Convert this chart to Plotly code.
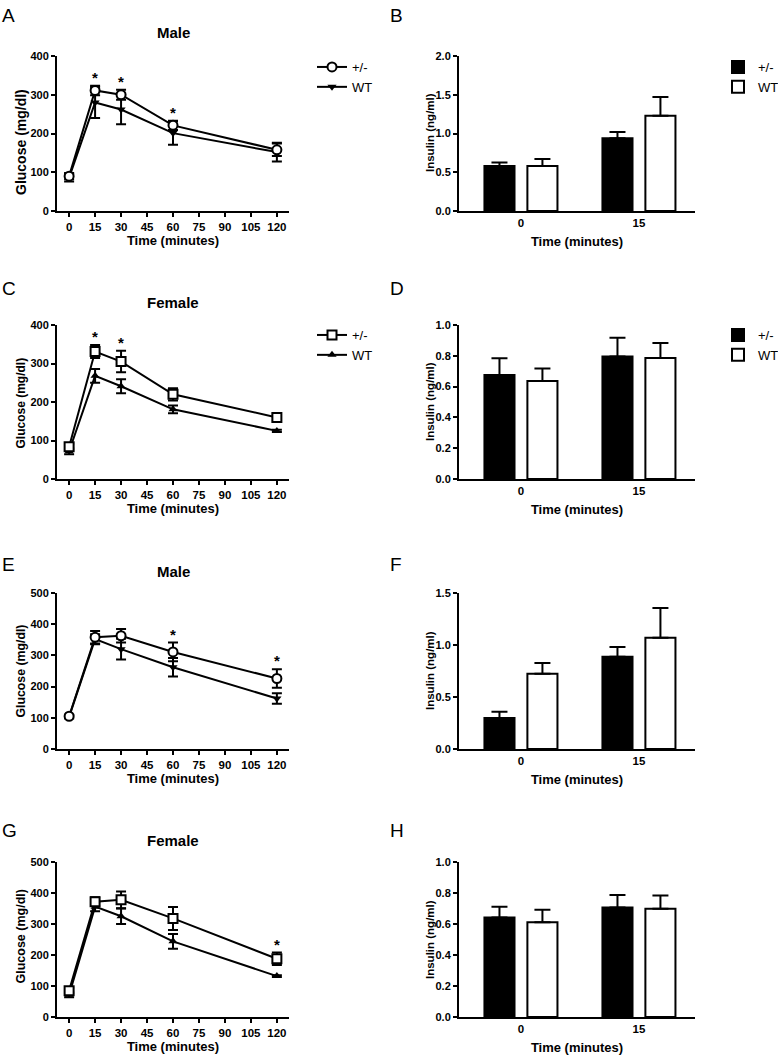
import plotly.graph_objects as go
from plotly.subplots import make_subplots

# ---------------- data ----------------
times = [0, 15, 30, 60, 120]
time_ticks = [0, 15, 30, 45, 60, 75, 90, 105, 120]

# Panel A (Male glucose)
a_het = [90, 311, 300, 221, 158]
a_het_err = [8, 12, 13, 12, 16]
a_wt = [86, 280, 262, 201, 152]
a_wt_err = [10, 40, 38, 30, 24]
a_star_t = [15, 30, 60]

# Panel C (Female glucose)
c_het = [84, 331, 305, 220, 160]
c_het_err = [8, 17, 28, 16, 8]
c_wt = [72, 268, 241, 181, 125]
c_wt_err = [8, 18, 18, 10, 3]
c_star_t = [15, 30]

# Panel E (Male glucose)
e_het = [105, 358, 363, 311, 226]
e_het_err = [5, 20, 22, 30, 30]
e_wt = [103, 352, 320, 262, 162]
e_wt_err = [5, 16, 33, 30, 17]
e_star_t = [60, 120]

# Panel G (Female glucose)
g_het = [85, 372, 378, 318, 188]
g_het_err = [10, 14, 27, 37, 20]
g_wt = [72, 356, 325, 244, 132]
g_wt_err = [8, 15, 25, 24, 3]
g_star_t = [120]

# Insulin panels
ins_cats = ["0", "15"]
b_het = [0.58, 0.94]
b_het_err = [0.045, 0.08]
b_wt = [0.58, 1.23]
b_wt_err = [0.09, 0.24]

d_het = [0.676, 0.795]
d_het_err = [0.108, 0.123]
d_wt = [0.637, 0.786]
d_wt_err = [0.08, 0.097]

f_het = [0.297, 0.886]
f_het_err = [0.062, 0.094]
f_wt = [0.724, 1.07]
f_wt_err = [0.104, 0.285]

h_het = [0.642, 0.707]
h_het_err = [0.069, 0.08]
h_wt = [0.612, 0.698]
h_wt_err = [0.08, 0.086]

# ---------------- figure ----------------
W, H = 778, 1058
FONT = "Liberation Sans"

fig = make_subplots(rows=4, cols=2)

left_x = [57 / W, 289 / W]
right_x = [459 / W, 695 / W]
rows_px = [(56, 211), (325, 479), (593, 749), (862, 1017)]


def ydom(top, bot):
    return [1 - bot / H, 1 - top / H]


def line_panel(row, het, het_err, wt, wt_err, het_sym, wt_sym, legend, show_leg):
    fig.add_trace(go.Scatter(
        x=times, y=wt, name="WT", mode="lines+markers",
        line=dict(color="black", width=2),
        marker=dict(symbol=wt_sym, size=8, color="black"),
        error_y=dict(type="data", array=wt_err, color="black", thickness=2, width=5),
        legend=legend, showlegend=show_leg, legendrank=2,
    ), row=row, col=1)
    fig.add_trace(go.Scatter(
        x=times, y=het, name="+/-", mode="lines+markers",
        line=dict(color="black", width=2),
        marker=dict(symbol=het_sym, size=9, color="white", line=dict(color="black", width=2)),
        error_y=dict(type="data", array=het_err, color="black", thickness=2, width=5),
        legend=legend, showlegend=show_leg, legendrank=1,
    ), row=row, col=1)


def bar_panel(row, het, het_err, wt, wt_err, legend, show_leg):
    fig.add_trace(go.Bar(
        x=ins_cats, y=het, name="+/-",
        marker=dict(color="black", line=dict(color="black", width=2)),
        error_y=dict(type="data", array=het_err, arrayminus=[0, 0], symmetric=False,
                     color="black", thickness=2, width=8),
        legend=legend, showlegend=show_leg,
    ), row=row, col=2)
    fig.add_trace(go.Bar(
        x=ins_cats, y=wt, name="WT",
        marker=dict(color="white", line=dict(color="black", width=2)),
        error_y=dict(type="data", array=wt_err, arrayminus=[0, 0], symmetric=False,
                     color="black", thickness=2, width=8),
        legend=legend, showlegend=show_leg,
    ), row=row, col=2)


line_panel(1, a_het, a_het_err, a_wt, a_wt_err, "circle", "triangle-down", "legend", True)
bar_panel(1, b_het, b_het_err, b_wt, b_wt_err, "legend2", True)
line_panel(2, c_het, c_het_err, c_wt, c_wt_err, "square", "triangle-up", "legend3", True)
bar_panel(2, d_het, d_het_err, d_wt, d_wt_err, "legend4", True)
line_panel(3, e_het, e_het_err, e_wt, e_wt_err, "circle", "triangle-down", "legend", False)
bar_panel(3, f_het, f_het_err, f_wt, f_wt_err, "legend2", False)
line_panel(4, g_het, g_het_err, g_wt, g_wt_err, "square", "triangle-up", "legend", False)
bar_panel(4, h_het, h_het_err, h_wt, h_wt_err, "legend2", False)

ytickfont = dict(family=FONT, size=11, color="black", weight="bold")
xtickfont = dict(family=FONT, size=11.5, color="black", weight="bold")
xtitlefont = dict(family=FONT, size=13, color="black", weight="bold")

axis_common = dict(showline=True, linecolor="black", linewidth=2, ticks="outside",
                   tickcolor="black", tickwidth=2, ticklen=4, showgrid=False,
                   zeroline=False, automargin=False)

glu_ranges = [[0, 400], [0, 400], [0, 500], [0, 500]]
ins_ranges = [[0, 2.0], [0, 1.0], [0, 1.5], [0, 1.0]]
ins_dticks = [0.5, 0.2, 0.5, 0.2]

for i in range(4):
    top, bot = rows_px[i]
    li = 2 * i + 1
    ri = 2 * i + 2
    lx = "xaxis" if li == 1 else f"xaxis{li}"
    ly = "yaxis" if li == 1 else f"yaxis{li}"
    rx = f"xaxis{ri}"
    ry = f"yaxis{ri}"
    fig.layout[lx].update(domain=left_x, range=[-7, 127], tickvals=time_ticks,
                          tickfont=xtickfont,
                          title=dict(text="Time (minutes)", font=xtitlefont, standoff=1),
                          **axis_common)
    fig.layout[ly].update(domain=ydom(top, bot), range=glu_ranges[i], dtick=100,
                          tickfont=ytickfont, **axis_common)
    fig.layout[rx].update(domain=right_x, range=[-0.525, 1.475], type="category",
                          tickfont=xtickfont,
                          title=dict(text="Time (minutes)", font=xtitlefont, standoff=9),
                          **{k: v for k, v in axis_common.items() if k not in ("ticks",)},
                          ticks="")
    fig.layout[ry].update(domain=ydom(top, bot), range=ins_ranges[i], dtick=ins_dticks[i],
                          tickformat=".1f", tickfont=ytickfont, **axis_common)

annotations = []
# y-axis titles (panel-specific size/position as in the source figure)
glu_title = [(21, 142, 14), (20.5, 403, 12), (20.5, 671, 12.3), (20.5, 937, 12.5)]
ins_title = [(430, 133, 11.5), (430, 402, 11.5), (430, 671, 11.5), (430, 940, 11.5)]
for (gx, gy, gs), (ix, iy, isz) in zip(glu_title, ins_title):
    annotations.append(dict(text="Glucose (mg/dl)", x=gx / W, y=1 - gy / H, xref="paper",
                            yref="paper", textangle=-90, xanchor="center", yanchor="middle",
                            showarrow=False,
                            font=dict(family=FONT, size=gs, color="black", weight="bold")))
    annotations.append(dict(text="Insulin (ng/ml)", x=ix / W, y=1 - iy / H, xref="paper",
                            yref="paper", textangle=-90, xanchor="center", yanchor="middle",
                            showarrow=False,
                            font=dict(family=FONT, size=isz, color="black", weight="bold")))
# panel letters
letters = ["A", "B", "C", "D", "E", "F", "G", "H"]
letter_y = [3, 3, 276, 276, 552, 552, 818, 818]
for k, L in enumerate(letters):
    annotations.append(dict(text=L, x=(0 if k % 2 == 0 else 388) / W, y=1 - letter_y[k] / H,
                            xref="paper", yref="paper", xanchor="left", yanchor="top",
                            showarrow=False, font=dict(family=FONT, size=19, color="black")))
# panel titles
titles = ["Male", "Female", "Male", "Female"]
title_y = [33, 302, 571, 840]
for k, t in enumerate(titles):
    annotations.append(dict(text=t, x=173 / W, y=1 - title_y[k] / H, xref="paper", yref="paper",
                            xanchor="center", yanchor="middle", showarrow=False,
                            font=dict(family=FONT, size=15, color="black", weight="bold")))
# significance stars
star_sets = [(1, a_star_t, a_het, a_het_err), (3, c_star_t, c_het, c_het_err),
             (5, e_star_t, e_het, e_het_err), (7, g_star_t, g_het, g_het_err)]
for ax, st, het, err in star_sets:
    for t in st:
        j = times.index(t)
        annotations.append(dict(text="*", x=t, y=het[j] + err[j],
                                xref="x" if ax == 1 else f"x{ax}",
                                yref="y" if ax == 1 else f"y{ax}",
                                xanchor="center", yanchor="bottom", yshift=-2,
                                showarrow=False,
                                font=dict(family=FONT, size=15, color="black", weight="bold")))

legend_common = dict(font=dict(family=FONT, size=13, color="black"), bgcolor="rgba(0,0,0,0)",
                     xanchor="left", yanchor="top", tracegroupgap=0, itemwidth=30,
                     traceorder="normal")

fig.update_layout(
    width=W, height=H, margin=dict(l=0, r=0, t=0, b=0, autoexpand=False),
    paper_bgcolor="white", plot_bgcolor="white",
    barmode="group", bargap=0.272, bargroupgap=0.30,
    annotations=annotations,
    legend=dict(x=312 / W, y=1 - 52 / H, **legend_common),
    legend2=dict(x=718 / W, y=1 - 52 / H, **legend_common),
    legend3=dict(x=312 / W, y=1 - 320 / H, **legend_common),
    legend4=dict(x=718 / W, y=1 - 320 / H, **legend_common),
)

fig.write_html("out.html", config={"displayModeBar": False},
               post_script="document.body.style.margin='0px';document.body.style.padding='0px';")
